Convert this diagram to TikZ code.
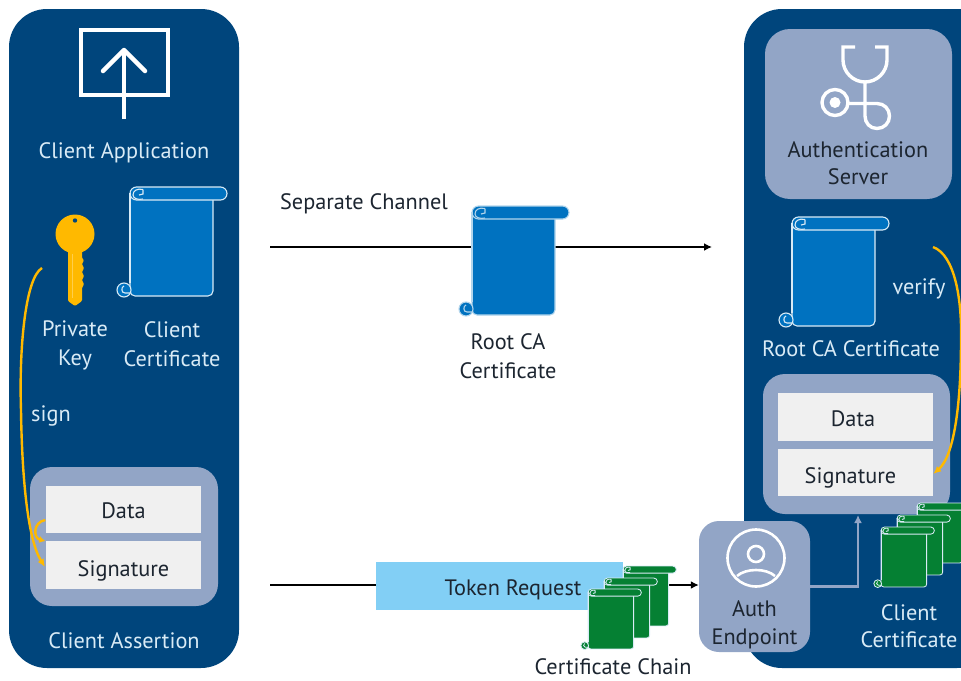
\documentclass[tikz,border=0pt]{standalone}
\usepackage{fontspec}
\setmainfont{PT Sans}
\usetikzlibrary{arrows.meta}
\definecolor{panelblue}{HTML}{00457C}
\definecolor{softblue}{HTML}{92A5C6}
\definecolor{certblue}{HTML}{0072C0}
\definecolor{certgreen}{HTML}{058033}
\definecolor{keygold}{HTML}{FFB900}
\definecolor{skyblue}{HTML}{82CFF5}
\definecolor{paper}{HTML}{F0F0F0}
\definecolor{lighttext}{HTML}{D9EBF6}
\definecolor{darktext}{HTML}{1C2530}
\tikzset{
  panel/.style={fill=panelblue,rounded corners=38pt},
  softbox/.style={fill=softblue,rounded corners=22pt},
  paperbox/.style={fill=paper,minimum width=155pt,minimum height=47.5pt,inner sep=0pt,text=darktext,text height=21pt,text depth=3pt},
  sigbox/.style={paperbox,text height=25pt},
  lbl/.style={font=\fontsize{22.3}{27.5}\selectfont,align=center,inner sep=0pt,text=lighttext},
  dlbl/.style={font=\fontsize{22.3}{27.5}\selectfont,align=center,inner sep=0pt,text=darktext},
  tallspacing/.style={font=\fontsize{22.3}{29}\selectfont},
  whiteline/.style={draw=white,line width=2.6pt,fill=none},
  goldarrow/.style={draw=keygold,line width=2.4pt,-{Latex[length=8pt,width=7pt]}},
  blackarrow/.style={draw=black,line width=2.4pt,-{Latex[length=8pt,width=8pt]}}
}
% #1 x, #2 y, #3 scale, #4 fill, #5 outline
\newcommand{\scrolldoc}[5]{%
  \begin{scope}[shift={(#1,#2)},scale=#3,draw=#5,fill=#4,line width={(0.5+0.6*#3)*1pt}]
    \filldraw[rounded corners={5pt*#3}] (0,6) -- (0,109) -- (83,109) -- (83,10);
    \filldraw[rounded corners={6.5pt*#3}] (0,13) -- (0,0) -- (97,0) -- (97,13) -- cycle;
    \filldraw (-6,103) circle[radius=7];
    \draw (-6,99) .. controls (-9,100) and (-9,106) .. (-5,106) -- (0,106);
    \draw (13,2.5) .. controls (7,1) and (3,4) .. (3,8) .. controls (3,12) and (9,13) .. (13,12);
    \draw (13,2.5) -- (13,7) -- (9,8);
    \draw (0,6) -- (0,96);
  \end{scope}}
\begin{document}
\begin{tikzpicture}[x=1pt,y=-1pt]
\useasboundingbox (0,0) rectangle (961,680);
\clip (0,0) rectangle (961,680);
% panels
\fill[panel] (9,9) rectangle (239,668);
\fill[panel] (744,9) rectangle (995,668);
\node[lbl] (clientapp) at (124,152.5) {Client Application};
% monitor icon
\draw[whiteline,line width=4pt] (81,30) rectangle (168,95);
\draw[whiteline,line width=4.5pt] (124,119) -- (124,50);
\draw[whiteline,line width=4.5pt,line cap=round,line join=round] (103,71) -- (124,50) -- (145,71);
% key
\fill[keygold] (75,234) circle[radius=19.5];
\fill[keygold,rounded corners=1pt] (68,248) -- (82,248) -- (82,258) -- (84,260) -- (82,264) -- (84,268) -- (82,272) -- (84,276) -- (82,280) -- (84,284) -- (82,288) -- (82,301) -- (75,306) -- (68,301) -- cycle;
\draw[draw=keygold!70!white,line width=.8pt] (72,254) -- (72,298);
\fill[panelblue] (75,220.5) circle[radius=2.2];
\scrolldoc{130}{187}{1}{certblue}{lighttext}
\node[lbl,tallspacing] (privkey) at (75,345) {Private\\Key};
\node[lbl,tallspacing] (clientcert) at (172,344) {Client\\Certificate};
\node[lbl] (signlbl) at (51,416) {sign};
% client assertion
\fill[softbox] (30,467) rectangle (218,606);
\node[paperbox,dlbl] (dataa) at (123,509.5) {\hspace*{1pt}Data};
\node[sigbox,dlbl] (siga) at (123,565) {\hspace*{1pt}Signature};
\node[lbl] (assertion) at (124,641) {Client Assertion};
\coordinate (signstart) at (42,268);
\draw[goldarrow] (signstart) .. controls (25,278) and (19,350) .. (21,410) .. controls (22,480) and (28,540) .. (45,567);
\draw[goldarrow,-{Latex[length=6pt,width=7pt]}] (dataa.south west |- 0,520) .. controls (33,522) and (33,538) .. (siga.north west);
% separate channel
\coordinate (sepstart) at (270,247);
\coordinate (sepend) at (712,247);
\draw[blackarrow] (sepstart) -- (sepend);
\node[dlbl] (seplbl) at (364,203.5) {Separate Channel};
\scrolldoc{472}{206}{1}{certblue}{white!70!certblue}
\node[dlbl,tallspacing] (rootlbl) at (508,356) {Root CA\\Certificate};
% auth server
\fill[softbox,rounded corners=25pt] (765,29) rectangle (952,199);
\draw[whiteline,line width=3.4pt] (855,47) -- (843,47) -- (843,60) .. controls (843,72) and (853,82) .. (865,82) .. controls (877,82) and (887,72) .. (887,60) -- (887,47) -- (875,47);
\draw[whiteline,line width=3.4pt] (865,82) -- (865,116) .. controls (865,123) and (870,128.5) .. (877,128.5) .. controls (884,128.5) and (889.5,123) .. (889.5,116) .. controls (889.5,109) and (884,103.5) .. (877,103.5) -- (848,103.5);
\draw[whiteline,line width=3.4pt] (835,102.5) circle[radius=13];
\fill[white] (835,102.5) circle[radius=5.5];
\node[dlbl] (authserver) at (858,163) {Authentication\\Server};
\scrolldoc{792}{217}{1}{certblue}{lighttext}
\node[lbl] (verifylbl) at (919,289) {verify};
\node[lbl] (rootlbl2) at (851,349) {Root CA Certificate};
% server assertion
\fill[softbox] (763,374) rectangle (950,514);
\node[paperbox,dlbl] (datab) at (855.5,417) {Data\hspace*{5pt}};
\node[sigbox,dlbl] (sigb) at (855.5,472.5) {Signature\hspace*{10pt}};
\coordinate (verifystart) at (933,247);
\draw[goldarrow] (verifystart) .. controls (955,255) and (962,300) .. (961,340) .. controls (961,400) and (955,455) .. (sigb.east |- 0,474);
% server certs
\scrolldoc{917}{503}{0.55}{certgreen}{lighttext}
\scrolldoc{897}{515}{0.55}{certgreen}{lighttext}
\scrolldoc{881}{527}{0.55}{certgreen}{lighttext}
\node[lbl] (clientcert2) at (909,626) {Client\\Certificate};
% token request line
\coordinate (tokstart) at (270,585);
\node[fill=softblue,rounded corners=20pt,minimum width=111pt,minimum height=131pt,inner sep=0pt] (authep) at (754.5,586.5) {};
\draw[blackarrow] (tokstart) -- (authep.west |- tokstart);
\node[fill=skyblue,minimum width=247pt,minimum height=48pt,inner sep=0pt] (tokbox) at (499,586) {};
\node[dlbl] (toklbl) at (513,589.5) {Token Request};
\scrolldoc{623}{566}{0.55}{certgreen}{lighttext}
\scrolldoc{604}{578}{0.55}{certgreen}{lighttext}
\scrolldoc{588}{589}{0.55}{certgreen}{lighttext}
\node[dlbl] (chainlbl) at (613,667) {Certificate Chain};
% auth endpoint
\draw[whiteline] (756,558) circle[radius=28.5];
\draw[whiteline] (756,554) circle[radius=8];
\draw[whiteline] (737,576) .. controls (746,568) and (766,568) .. (775,576);
\node[dlbl] (authlbl) at (754.5,625) {Auth\\Endpoint};
\coordinate (assertionbottom) at (858,515);
\draw[draw=softblue,line width=2.2pt,-{Latex[length=8pt,width=8pt]}] (authep.east) -| (assertionbottom);
\end{tikzpicture}
\end{document}
